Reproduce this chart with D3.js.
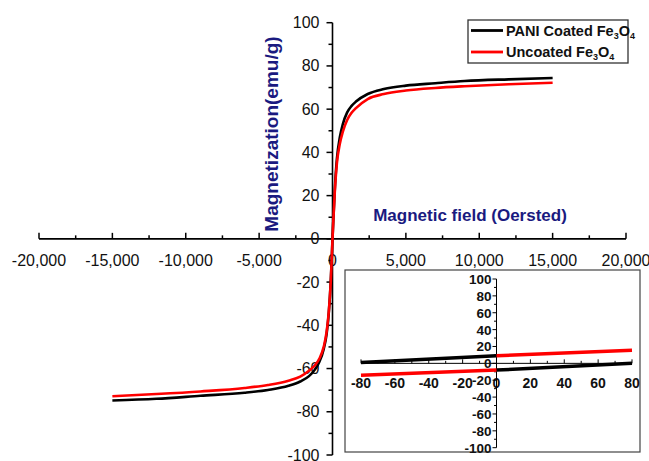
<!DOCTYPE html>
<html><head><meta charset="utf-8">
<script src="https://cdn.jsdelivr.net/npm/d3@7"></script>
<style>body{margin:0;background:#fff}svg{display:block}</style>
</head><body>
<script>
// ---- data ----
const blackField = [-15000,-12000,-9000,-6000,-4400,-3000,-2200,-1600,-1200,-900,-600,-400,-250,-120,-50,0,60,150,300,500,700,1000,1300,1600,2400,3500,5000,7000,9000,12000,15000];
const blackM     = [-74.8,-74,-72.6,-71.2,-69.9,-68,-66,-63.5,-60.5,-57,-51,-44,-34,-20,-9,0,9,22,37,47,53,58.5,61.5,63.5,67,69.3,70.9,72,73,73.8,74.4];
const redField   = [-15000,-12000,-9000,-6000,-4400,-3000,-2200,-1600,-1200,-900,-600,-400,-250,-120,-50,0,60,150,300,500,700,1000,1300,1600,2400,3500,5000,7000,9000,12000,15000];
const redM       = [-72.8,-71.8,-70.6,-69,-67.6,-65.6,-63.7,-61,-58.5,-55.5,-50,-43,-33.5,-20,-9,0,9,21,35,44,49.5,55,58.3,60.5,64.7,67,68.6,69.8,70.6,71.5,72.2];
const xTicks = [-20000,-15000,-10000,-5000,0,5000,10000,15000,20000];
const yTicks = [-100,-80,-60,-40,-20,0,20,40,60,80,100];
// inset (low field)
const insetBlackUpperField = [-80, 0];
const insetBlackUpperM     = [1, 9];
const insetBlackLowerField = [0, 80];
const insetBlackLowerM     = [-8, 0];
const insetRedLowerField   = [-80, 0];
const insetRedLowerM       = [-14, -8];
const insetRedUpperField   = [0, 80];
const insetRedUpperM       = [9, 15.4];
const insetXTicks = [-80,-60,-40,-20,0,20,40,60,80];
const insetYTicks = [-100,-80,-60,-40,-20,0,20,40,60,80,100];
const seriesNames = ["PANI Coated Fe", "Uncoated Fe"];
const seriesColors = ["#000000", "#ff0000"];

const W = 649, H = 461;
const svg = d3.select("body").append("svg").attr("width", W).attr("height", H);
const font = "'Liberation Sans', Arial, sans-serif";
const navy = "#1a1a80";

const x = d3.scaleLinear().domain([-20000, 20000]).range([39, 626]);
const y = d3.scaleLinear().domain([-100, 100]).range([455, 22.7]);

// x axis
const xMinor = d3.range(-20000, 20001, 2500);
const gx = svg.append("g").attr("transform", `translate(0,${y(0)})`);
gx.append("line").attr("x1", x(-20000)).attr("x2", x(20000)).attr("stroke", "#000").attr("stroke-width", 1.6);
gx.selectAll("line.mn").data(xMinor).join("line").attr("class","mn")
  .attr("x1", d => x(d)).attr("x2", d => x(d))
  .attr("y1", 0).attr("y2", d => xTicks.includes(d) ? -6 : -3.5)
  .attr("stroke", "#000").attr("stroke-width", 1.5);
gx.selectAll("text").data(xTicks).join("text")
  .attr("x", d => x(d)).attr("y", 27).attr("text-anchor", "middle")
  .attr("font-family", font).attr("font-size", 16).attr("fill", "#111")
  .text(d => d3.format(",")(d).replace("−","-"));

// y axis
const yMinor = d3.range(-100, 101, 10);
const gy = svg.append("g").attr("transform", `translate(${x(0)},0)`);
gy.append("line").attr("y1", y(-100)).attr("y2", y(100)).attr("stroke", "#000").attr("stroke-width", 1.6);
gy.selectAll("line.mn").data(yMinor).join("line").attr("class","mn")
  .attr("y1", d => y(d)).attr("y2", d => y(d))
  .attr("x1", 0).attr("x2", d => yTicks.includes(d) ? -6 : -4)
  .attr("stroke", "#000").attr("stroke-width", 1.5);
gy.selectAll("text").data(yTicks).join("text")
  .attr("x", -13).attr("y", d => y(d) + 5.5).attr("text-anchor", "end")
  .attr("font-family", font).attr("font-size", 16).attr("fill", "#111")
  .text(d => d);

// axis titles
svg.append("text").attr("transform", `translate(278,134) rotate(-90)`)
  .attr("text-anchor", "middle").attr("font-family", font).attr("font-weight", "bold")
  .attr("font-size", 19).attr("fill", navy).text("Magnetization(emu/g)");
svg.append("text").attr("x", 470).attr("y", 221)
  .attr("text-anchor", "middle").attr("font-family", font).attr("font-weight", "bold")
  .attr("font-size", 17).attr("fill", navy).text("Magnetic field (Oersted)");

// curves
const line = d3.line().x(d => x(d[0])).y(d => y(d[1])).curve(d3.curveMonotoneX);
svg.append("path").datum(d3.zip(blackField, blackM)).attr("d", line)
  .attr("fill", "none").attr("stroke", seriesColors[0]).attr("stroke-width", 2.6);
svg.append("path").datum(d3.zip(redField, redM)).attr("d", line)
  .attr("fill", "none").attr("stroke", seriesColors[1]).attr("stroke-width", 2.6);

// legend
const lg = svg.append("g");
lg.append("rect").attr("x", 468).attr("y", 20).attr("width", 160).attr("height", 43)
  .attr("fill", "#fff").attr("stroke", "#333").attr("stroke-width", 1.3);
[0, 1].forEach(i => {
  const ly = 30.5 + i * 21.5;
  lg.append("line").attr("x1", 471).attr("x2", 503).attr("y1", ly).attr("y2", ly)
    .attr("stroke", seriesColors[i]).attr("stroke-width", 2.8);
  const t = lg.append("text").attr("x", 506).attr("y", ly + 5)
    .attr("font-family", font).attr("font-weight", "bold").attr("font-size", 14.5).attr("fill", "#111");
  t.append("tspan").text(seriesNames[i]);
  t.append("tspan").attr("font-size", 9).attr("dy", 3).text("3");
  t.append("tspan").attr("dy", -3).text("O");
  t.append("tspan").attr("font-size", 9).attr("dy", 3).text("4");
});

// inset
const ig = svg.append("g");
ig.append("rect").attr("x", 345).attr("y", 270).attr("width", 295).attr("height", 182)
  .attr("fill", "#fff").attr("stroke", "#444").attr("stroke-width", 1.2);
const ix = d3.scaleLinear().domain([-80, 80]).range([361, 632]);
const iy = d3.scaleLinear().domain([-100, 100]).range([447.7, 279]);
const ixMinor = d3.range(-80, 81, 10);
ig.append("line").attr("x1", ix(-80)).attr("x2", ix(80)).attr("y1", iy(0)).attr("y2", iy(0))
  .attr("stroke", "#000").attr("stroke-width", 1);
ig.selectAll("line.xm").data(ixMinor).join("line").attr("class","xm")
  .attr("x1", d => ix(d)).attr("x2", d => ix(d)).attr("y1", iy(0)).attr("y2", d => iy(0) - (insetXTicks.includes(d) ? 4 : 2.5))
  .attr("stroke", "#000").attr("stroke-width", 1);
ig.selectAll("text.xl").data(insetXTicks).join("text").attr("class","xl")
  .attr("x", d => ix(d)).attr("y", iy(0) + 25).attr("text-anchor", "middle")
  .attr("font-family", font).attr("font-weight", "bold").attr("font-size", 14).attr("fill", "#111")
  .text(d => d);
const iyMinor = d3.range(-100, 101, 10);
ig.append("line").attr("x1", ix(0)).attr("x2", ix(0)).attr("y1", iy(-100)).attr("y2", iy(100))
  .attr("stroke", "#000").attr("stroke-width", 1);
ig.selectAll("line.ym").data(iyMinor).join("line").attr("class","ym")
  .attr("x1", ix(0)).attr("x2", d => ix(0) - (insetYTicks.includes(d) ? 4 : 2.5)).attr("y1", d => iy(d)).attr("y2", d => iy(d))
  .attr("stroke", "#000").attr("stroke-width", 1);
ig.selectAll("text.yl").data(insetYTicks).join("text").attr("class","yl")
  .attr("x", ix(0) - 5).attr("y", d => iy(d) + 5).attr("text-anchor", "end")
  .attr("font-family", font).attr("font-weight", "bold").attr("font-size", 13.5).attr("fill", "#111")
  .text(d => d);
const iline = d3.line().x(d => ix(d[0])).y(d => iy(d[1]));
[[insetBlackUpperField, insetBlackUpperM, 0], [insetBlackLowerField, insetBlackLowerM, 0],
 [insetRedLowerField, insetRedLowerM, 1], [insetRedUpperField, insetRedUpperM, 1]].forEach(([f, m, c]) => {
  ig.append("path").datum(d3.zip(f, m)).attr("d", iline)
    .attr("fill", "none").attr("stroke", seriesColors[c]).attr("stroke-width", 3.5);
});
</script>
</body></html>
